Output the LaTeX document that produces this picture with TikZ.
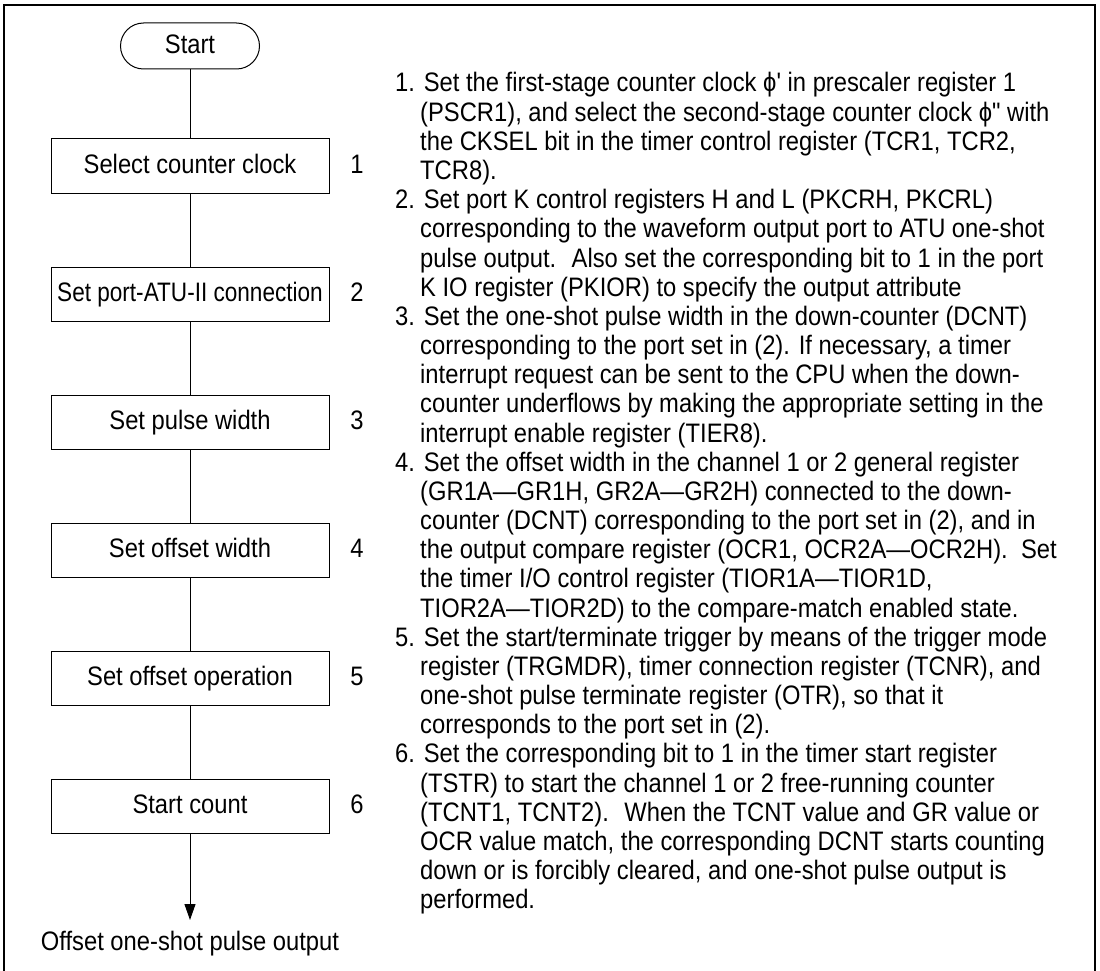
\documentclass[tikz,border=0pt]{standalone}
\usepackage{fontspec}
\usepackage{graphicx}
\setmainfont{Liberation Sans}[Ligatures=TeXOff, FakeStretch=0.89]
\usetikzlibrary{arrows.meta}
\begin{document}
\begin{tikzpicture}[x=1pt,y=-1pt,
  every node/.style={font=\fontsize{26.7}{29.2}\selectfont, inner sep=0pt},
  txt/.style={anchor=base west},
  stepbox/.style={draw, line width=1pt, minimum width=278pt, minimum height=54pt, text height=20pt, text depth=5pt},
  startbox/.style={draw, line width=1pt, rounded corners=23pt, minimum width=139pt, minimum height=46pt, text height=20pt, text depth=5pt},
  num/.style={anchor=base},
  conn/.style={line width=1pt},
  frame/.style={line width=2pt}
]
\useasboundingbox (0,0) rectangle (1100,971);
\draw[frame] (4,980) -- (4,5) -- (1095,5) -- (1095,980);

% flowchart
\node[startbox] (start) at (190,46) {Start};
\node[stepbox] (b1) at (190,166) {Select counter clock};
\node[stepbox] (b2) at (190,294) {\scalebox{0.95}[1]{Set port-ATU-II connection}};
\node[stepbox] (b3) at (190,422) {Set pulse width};
\node[stepbox] (b4) at (190,550) {Set offset width};
\node[stepbox] (b5) at (190,678) {Set offset operation};
\node[stepbox] (b6) at (190,806) {Start count};
\coordinate (tip) at (190,920);
\node[anchor=base] (out) at (190,950) {Offset one-shot pulse output};

\node[num] (n1) at (357,173.5) {1};
\node[num] (n2) at (357,301.5) {2};
\node[num] (n3) at (357,429.5) {3};
\node[num] (n4) at (357,557.5) {4};
\node[num] (n5) at (357,685.5) {5};
\node[num] (n6) at (357,813.5) {6};

\draw[conn] (start) -- (b1);
\draw[conn] (b1) -- (b2);
\draw[conn] (b2) -- (b3);
\draw[conn] (b3) -- (b4);
\draw[conn] (b4) -- (b5);
\draw[conn] (b5) -- (b6);
\draw[conn,-{Triangle[width=11pt,length=16pt]}] (b6) -- (tip);

% explanatory text
\node[txt] (t1) at (395,92.0) {1. Set the first-stage counter clock ϕ' in prescaler register 1};
\node[txt] (t2) at (420,121.2) {(PSCR1), and select the second-stage counter clock ϕ" with};
\node[txt] (t3) at (420,150.3) {the CKSEL bit in the timer control register (TCR1, TCR2,};
\node[txt] (t4) at (420,179.5) {TCR8).};
\node[txt] (t5) at (395,208.7) {2. Set port K control registers H and L (PKCRH, PKCRL)};
\node[txt] (t6) at (420,237.9) {corresponding to the waveform output port to ATU one-shot};
\node[txt] (t7) at (420,267.0) {pulse output.~ Also set the corresponding bit to 1 in the port};
\node[txt] (t8) at (420,296.2) {K IO register (PKIOR) to specify the output attribute};
\node[txt] (t9) at (395,325.4) {3. Set the one-shot pulse width in the down-counter (DCNT)};
\node[txt] (t10) at (420,354.5) {corresponding to the port set in (2). If necessary, a timer};
\node[txt] (t11) at (420,383.7) {interrupt request can be sent to the CPU when the down-};
\node[txt] (t12) at (420,412.9) {counter underflows by making the appropriate setting in the};
\node[txt] (t13) at (420,442.0) {interrupt enable register (TIER8).};
\node[txt] (t14) at (395,471.2) {4. Set the offset width in the channel 1 or 2 general register};
\node[txt] (t15) at (420,500.4) {(GR1A—GR1H, GR2A—GR2H) connected to the down-};
\node[txt] (t16) at (420,529.6) {counter (DCNT) corresponding to the port set in (2), and in};
\node[txt] (t17) at (420,558.7) {the output compare register (OCR1, OCR2A—OCR2H).~ Set};
\node[txt] (t18) at (420,587.9) {the timer I/O control register (TIOR1A—TIOR1D,};
\node[txt] (t19) at (420,617.1) {TIOR2A—TIOR2D) to the compare-match enabled state.};
\node[txt] (t20) at (395,646.2) {5. Set the start/terminate trigger by means of the trigger mode};
\node[txt] (t21) at (420,675.4) {register (TRGMDR), timer connection register (TCNR), and};
\node[txt] (t22) at (420,704.6) {one-shot pulse terminate register (OTR), so that it};
\node[txt] (t23) at (420,733.7) {corresponds to the port set in (2).};
\node[txt] (t24) at (395,762.9) {6. Set the corresponding bit to 1 in the timer start register};
\node[txt] (t25) at (420,792.1) {(TSTR) to start the channel 1 or 2 free-running counter};
\node[txt] (t26) at (420,821.3) {(TCNT1, TCNT2).~ When the TCNT value and GR value or};
\node[txt] (t27) at (420,850.4) {OCR value match, the corresponding DCNT starts counting};
\node[txt] (t28) at (420,879.6) {down or is forcibly cleared, and one-shot pulse output is};
\node[txt] (t29) at (420,908.8) {performed.};
\end{tikzpicture}
\end{document}
